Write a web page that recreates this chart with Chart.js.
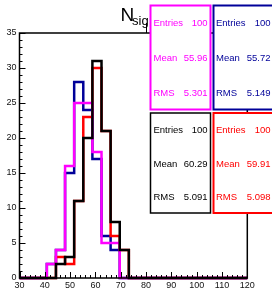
<!DOCTYPE html>
<html>
<head>
<meta charset="utf-8">
<script src="https://cdn.jsdelivr.net/npm/chart.js@4"></script>
<style>
  html, body { margin: 0; padding: 0; background: #fff; }
  #wrap { width: 272px; height: 291px; }
</style>
</head>
<body>
<div id="wrap"><canvas id="c" width="272" height="291"></canvas></div>
<script>
// histogram binning: 25 bins from 30 to 120
const binLo = 30, binHi = 120, nBins = 25;
const binEdges = Array.from({length: nBins + 1}, (_, i) => binLo + i * (binHi - binLo) / nBins);

// bin contents
const magentaCounts = [0,0,0,2,4,16,25,25,18,5,5,0,0,0,0,0,0,0,0,0,0,0,0,0,0];
const blueCounts    = [0,0,0,2,4,15,28,24,17,6,4,0,0,0,0,0,0,0,0,0,0,0,0,0,0];
const redCounts     = [0,0,0,0,3,2,11,23,30,21,6,4,0,0,0,0,0,0,0,0,0,0,0,0,0];
const blackCounts   = [0,0,0,0,2,3,11,20,31,21,8,4,0,0,0,0,0,0,0,0,0,0,0,0,0];

// stat box texts
const statLabels = ["Entries", "Mean", "RMS"];
const magentaStats = ["100", "55.96", "5.301"];
const blueStats    = ["100", "55.72", "5.149"];
const blackStats   = ["100", "60.29", "5.091"];
const redStats     = ["100", "59.91", "5.098"];

const xTicks = [30,40,50,60,70,80,90,100,110,120];
const yTicks = [0,5,10,15,20,25,30,35];

const FONT = "'Liberation Sans', Arial, sans-serif";

function toSteps(counts){
  const pts = counts.map((v, i) => ({x: binEdges[i], y: v}));
  pts.push({x: binEdges[nBins], y: counts[nBins - 1]});
  return pts;
}
function histSet(counts, color, order){
  return { data: toSteps(counts), borderColor: color, borderWidth: 2.5, stepped: 'before',
           pointRadius: 0, fill: false, order: order, clip: 3 };
}

const frameAxes = {
  id: 'frameAxes',
  afterDatasetsDraw(chart){
    const {ctx, chartArea: a, scales: {x, y}} = chart;
    ctx.save();
    ctx.strokeStyle = '#000';
    ctx.lineWidth = 1;
    ctx.beginPath();
    for (let v = binLo; v <= binHi; v += 2){
      const px = Math.round(x.getPixelForValue(v)) + 0.5;
      const len = v % 10 === 0 ? 6 : 3;
      ctx.moveTo(px, a.bottom); ctx.lineTo(px, a.bottom - len);
    }
    for (let v = 0; v <= 35; v += 1){
      const py = Math.round(y.getPixelForValue(v)) + 0.5;
      const len = v % 5 === 0 ? 6 : 3;
      ctx.moveTo(a.left, py); ctx.lineTo(a.left + len, py);
    }
    ctx.stroke();
    ctx.lineWidth = 1.5;
    ctx.strokeRect(a.left, a.top, a.right - a.left, a.bottom - a.top);
    ctx.restore();
  }
};

function statBox(ctx, x0, y0, x1, y1, color, lw, stats, labelX, valueX, baselines){
  ctx.fillStyle = '#fff';
  ctx.fillRect(x0, y0, x1 - x0, y1 - y0);
  ctx.strokeStyle = color;
  ctx.lineWidth = lw;
  ctx.strokeRect(x0, y0, x1 - x0, y1 - y0);
  ctx.fillStyle = color;
  ctx.font = '9.5px ' + FONT;
  stats.forEach((s, i) => {
    ctx.textAlign = 'left';
    ctx.fillText(statLabels[i], labelX, baselines[i]);
    ctx.textAlign = 'right';
    ctx.fillText(s, valueX, baselines[i]);
  });
}

const decorations = {
  id: 'decorations',
  afterDraw(chart){
    const ctx = chart.ctx;
    ctx.save();
    // title
    ctx.fillStyle = '#000';
    ctx.textAlign = 'left';
    ctx.textBaseline = 'alphabetic';
    ctx.font = '19px ' + FONT;
    ctx.fillText('N', 120.5, 20.7);
    ctx.font = '13px ' + FONT;
    ctx.fillText('sig', 132, 25);
    ctx.strokeStyle = '#000';
    ctx.lineWidth = 1;
    ctx.beginPath(); ctx.moveTo(146.5, 23); ctx.lineTo(146.5, 33); ctx.stroke();
    // stat boxes
    const top = [26, 61, 96], bot = [132.5, 166.5, 200];
    statBox(ctx, 150.5, 5.5, 210.5, 109.5, '#ff00ff', 2, magentaStats, 153.5, 207.5, top);
    statBox(ctx, 213.5, 5.5, 300, 109.5, '#000099', 2, blueStats, 216, 270.5, top);
    statBox(ctx, 150.5, 113, 210.5, 213, '#000000', 1.5, blackStats, 153.5, 207.5, bot);
    statBox(ctx, 213.5, 113, 300, 213, '#ff0000', 2, redStats, 216, 270.5, bot);
    ctx.restore();
  }
};

new Chart(document.getElementById('c'), {
  type: 'line',
  data: {
    datasets: [
      histSet(blackCounts, '#000000', 0),
      histSet(magentaCounts, '#ff00ff', 1),
      histSet(redCounts, '#ff0000', 2),
      histSet(blueCounts, '#000099', 3)
    ]
  },
  options: {
    responsive: false,
    animation: false,
    events: [],
    layout: { padding: { top: 33, right: 24.7, left: 0, bottom: 0 } },
    plugins: { legend: { display: false }, tooltip: { enabled: false } },
    scales: {
      x: {
        type: 'linear', min: binLo, max: binHi,
        afterBuildTicks: s => { s.ticks = xTicks.map(v => ({value: v})); },
        afterFit: s => { s.height = 13; },
        grid: { display: false, drawTicks: false },
        border: { display: false },
        ticks: { color: '#111', padding: 2, maxRotation: 0, autoSkip: false, font: { family: FONT, size: 9 } }
      },
      y: {
        type: 'linear', min: 0, max: 35,
        afterBuildTicks: s => { s.ticks = yTicks.map(v => ({value: v})); },
        afterFit: s => { s.width = 19.5; },
        grid: { display: false, drawTicks: false },
        border: { display: false },
        ticks: { color: '#111', padding: 3, font: { family: FONT, size: 9 } }
      }
    }
  },
  plugins: [frameAxes, decorations]
});
</script>
</body>
</html>
